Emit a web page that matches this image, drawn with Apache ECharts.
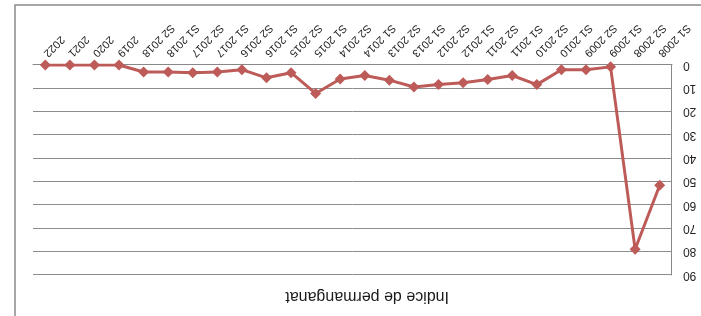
<!DOCTYPE html>
<html>
<head>
<meta charset="utf-8">
<script src="https://cdn.jsdelivr.net/npm/echarts@6/dist/echarts.min.js"></script>
<style>
html,body{margin:0;padding:0;background:#fff;}
#chart{width:701px;height:316px;transform:rotate(180deg);}
</style>
</head>
<body>
<div id="chart"></div>
<script>
const categories = ["S1 2008","S2 2008","S1 2009","S2 2009","S1 2010","S2 2010","S1 2011","S2 2011","S1 2012","S2 2012","S1 2013","S2 2013","S1 2014","S2 2014","S1 2015","S2 2015","S1 2016","S2 2016","S1 2017","S2 2017","S1 2018","S2 2018","2019","2020","2021","2022"];
const values = [51.5,79,0.8,2,2,8.4,4.5,6.2,7.6,8.4,9.4,6.5,4.5,6,12.2,3.3,5.5,2,3,3.3,3,3,0,0,0,0];
const yTicks = [0,10,20,30,40,50,60,70,80,90];
const titleText = "Indice de permanganat";

const chart = echarts.init(document.getElementById('chart'), null, {renderer:'canvas'});
chart.setOption({
  animation:false,
  backgroundColor:'#fff',
  textStyle:{fontFamily:'Liberation Sans'},
  title:{
    text:titleText, left:247, top:7,
    textStyle:{fontSize:16, fontWeight:'normal', color:'#1a1a1a', fontFamily:'Liberation Sans'}
  },
  graphic:[{
    type:'rect', shape:{x:-20,y:-20,width:706,height:331},
    style:{fill:'none', stroke:'#8a8a8a', lineWidth:1.5}, silent:true
  }],
  grid:{left:29,right:33,top:41,bottom:65},
  xAxis:{
    type:'category', data:categories, boundaryGap:true,
    axisLine:{lineStyle:{color:'#888',width:1}},
    axisTick:{show:false},
    axisLabel:{rotate:45, interval:0, fontSize:11, color:'#222', margin:10, fontFamily:'Liberation Sans'}
  },
  yAxis:{
    type:'value', min:yTicks[0], max:yTicks[yTicks.length-1], interval:10,
    axisLine:{show:true, lineStyle:{color:'#888',width:1}},
    axisTick:{show:false},
    splitLine:{lineStyle:{color:'#8c8c8c',width:1}},
    axisLabel:{fontSize:12, color:'#222', margin:11, fontFamily:'Liberation Sans'}
  },
  series:[{
    type:'line', data:values,
    symbol:'diamond', symbolSize:11,
    lineStyle:{color:'#bc5b58',width:3},
    itemStyle:{color:'#bc5b58'}
  }]
});
</script>
</body>
</html>
